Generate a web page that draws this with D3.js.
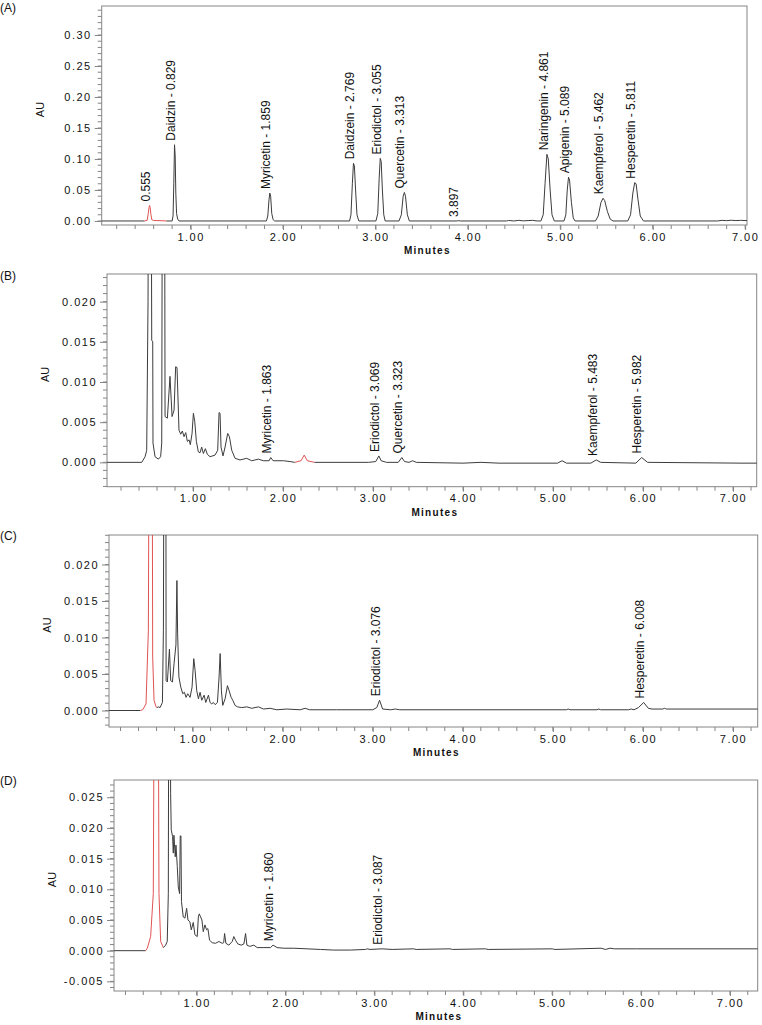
<!DOCTYPE html>
<html>
<head>
<meta charset="utf-8">
<script src="https://cdn.jsdelivr.net/npm/d3@7"></script>
<style>
  body { margin: 0; background: #fff; }
  svg text { font-family: "Liberation Sans", Arial, sans-serif; fill: #111; }
</style>
</head>
<body>
<svg id="chart" width="762" height="1025"></svg>
<script>
/************************* Data *************************/
// x tick labels (minutes)
const xTicks = [1, 2, 3, 4, 5, 6, 7];

// y tick labels (AU) per panel
const yTicksA = [0, 0.05, 0.10, 0.15, 0.20, 0.25, 0.30];
const yTicksB = [0, 0.005, 0.010, 0.015, 0.020];
const yTicksC = [0, 0.005, 0.010, 0.015, 0.020];
const yTicksD = [-0.005, 0, 0.005, 0.010, 0.015, 0.020, 0.025];

// chromatogram traces, [minutes, AU]
const traceA = [
  [0.0, 0], [0.50, 0], [0.53, 0.001], [0.542, 0.012], [0.55, 0.022], [0.556, 0.025], [0.562, 0.022],
  [0.57, 0.011], [0.58, 0.002], [0.60, 0.0007], [0.68, 0.0005], [0.74, 0],
  [0.80, 0], [0.81, 0.008], [0.818, 0.06], [0.826, 0.123], [0.833, 0.105], [0.84, 0.045], [0.848, 0.012], [0.86, 0.003], [0.875, 0],
  [1.82, 0], [1.835, 0.008], [1.848, 0.034], [1.857, 0.045], [1.866, 0.04], [1.878, 0.012], [1.893, 0.002], [1.91, 0],
  [2.72, 0], [2.735, 0.01], [2.75, 0.06], [2.762, 0.093], [2.772, 0.089], [2.785, 0.05], [2.80, 0.01], [2.82, 0],
  [3.005, 0], [3.025, 0.012], [3.04, 0.068], [3.052, 0.101], [3.062, 0.096], [3.075, 0.05], [3.09, 0.01], [3.105, 0],
  [3.255, 0], [3.28, 0.01], [3.30, 0.04], [3.313, 0.046], [3.325, 0.04], [3.345, 0.01], [3.367, 0],
  [3.88, 0], [3.90, 0.0005], [3.92, 0], [4.42, 0], [4.44, 0.0008], [4.5, 0], [4.55, 0.001], [4.6, 0.0002], [4.7, 0.001], [4.75, 0],
  [4.79, 0], [4.815, 0.01], [4.835, 0.06], [4.855, 0.1075], [4.87, 0.10], [4.89, 0.05], [4.91, 0.01], [4.935, 0],
  [5.04, 0], [5.06, 0.01], [5.075, 0.05], [5.089, 0.0705], [5.10, 0.066], [5.12, 0.03], [5.14, 0.005], [5.16, 0],
  [5.38, 0], [5.41, 0.008], [5.44, 0.03], [5.462, 0.0366], [5.48, 0.033], [5.51, 0.015], [5.54, 0.003], [5.57, 0],
  [5.73, 0], [5.76, 0.01], [5.785, 0.045], [5.805, 0.0618], [5.82, 0.06], [5.84, 0.035], [5.865, 0.008], [5.90, 0],
  [6.70, 0], [6.75, 0.001], [6.80, 0.0005], [6.85, 0.0012], [6.90, 0.0006], [6.95, 0.001], [7.1, 0]
];
const traceB = [
  [0.0, 0], [0.43, 0], [0.467, 0.0007], [0.485, 0.0015], [0.50, 0.02], [0.51, 0.06], [0.53, 0.06], [0.541, 0.0152],
  [0.552, 0.015], [0.555, 0.0024], [0.578, 0.0007], [0.615, 0.0004], [0.64, 0.0007], [0.652, 0.0024], [0.663, 0.06],
  [0.681, 0.06], [0.689, 0.0057], [0.715, 0.0055], [0.744, 0.0107], [0.767, 0.0057], [0.789, 0.0065], [0.807, 0.0119],
  [0.822, 0.0118], [0.844, 0.0040], [0.863, 0.0035], [0.881, 0.0039], [0.90, 0.0032], [0.919, 0.0037], [0.937, 0.0026],
  [0.956, 0.0028], [0.97, 0.0022], [0.989, 0.0036], [1.004, 0.0061], [1.019, 0.0051], [1.037, 0.0026], [1.059, 0.0013],
  [1.078, 0.0012], [1.096, 0.0019], [1.115, 0.0011], [1.137, 0.0017], [1.159, 0.001], [1.189, 0.0007], [1.244, 0.0009],
  [1.274, 0.0015], [1.289, 0.0062], [1.30, 0.0061], [1.311, 0.0019], [1.333, 0.0008], [1.356, 0.0019], [1.385, 0.0036],
  [1.404, 0.0032], [1.43, 0.0015], [1.467, 0.0005], [1.522, 0.0003], [1.596, 0.0005], [1.652, 0.0002], [1.726, 0.0004],
  [1.781, 0.0002], [1.845, 0.0002], [1.863, 0.0006], [1.89, 0.0002], [2.004, 0.0002], [2.078, 0.0001], [2.13, 0],
  [2.20, 0.0002], [2.235, 0.0009], [2.27, 0.0002], [2.35, 0],
  [2.95, 0], [3.03, 0.0001], [3.065, 0.0008], [3.09, 0.0002], [3.15, 0], [3.28, 0], [3.32, 0.0006], [3.35, 0.0001],
  [3.40, 0], [3.44, 0.0002], [3.48, 0], [4.0, -0.0001], [4.2, 0], [4.4, -0.0001], [5.05, -0.0001], [5.10, 0.0002],
  [5.15, -0.0001], [5.42, -0.0001], [5.48, 0.0003], [5.53, 0], [5.92, -0.0001], [5.985, 0.0006], [6.05, 0],
  [7.1, -0.0001], [7.3, -0.0001]
];
const traceC = [
  [0.0, 0], [0.42, 0], [0.446, 0.0001], [0.483, 0.0009], [0.509, 0.011], [0.52, 0.05], [0.55, 0.05], [0.557, 0.0073],
  [0.572, 0.0014], [0.594, 0.0005], [0.605, 0.0004],
  [0.62, 0.0005], [0.639, 0.0004], [0.665, 0.0011], [0.676, 0.011], [0.687, 0.06], [0.702, 0.06], [0.706, 0.0041],
  [0.72, 0.0039], [0.743, 0.0084], [0.757, 0.0041], [0.776, 0.0039], [0.794, 0.0064], [0.815, 0.009], [0.826, 0.0178],
  [0.834, 0.0105], [0.848, 0.0046], [0.869, 0.0032], [0.891, 0.0023], [0.909, 0.0025], [0.928, 0.0018], [0.946, 0.0023],
  [0.972, 0.0018], [0.994, 0.0032], [1.013, 0.0071], [1.028, 0.0055], [1.046, 0.0027], [1.065, 0.0016], [1.083, 0.0025],
  [1.102, 0.0014], [1.128, 0.0021], [1.146, 0.0011], [1.176, 0.0021], [1.194, 0.0011], [1.213, 0.0009], [1.231, 0.0011],
  [1.25, 0.0008], [1.276, 0.0011], [1.294, 0.0046], [1.306, 0.0078], [1.32, 0.0027], [1.335, 0.0007], [1.361, 0.0016],
  [1.387, 0.0034], [1.406, 0.0027], [1.428, 0.0018], [1.446, 0.0014], [1.472, 0.0007], [1.498, 0.0005], [1.546, 0.0004],
  [1.602, 0.0005], [1.657, 0.0003], [1.731, 0.0005], [1.787, 0.0002], [1.861, 0.0003], [1.935, 0.0001], [2.046, 0.0002],
  [2.194, 0.0001], [2.25, 0.0003], [2.30, 0.0001], [2.6, 0.0001], [3.0, 0.0001], [3.045, 0.0004], [3.076, 0.0014],
  [3.11, 0.0002], [3.2, 0.0001], [3.25, 0.0002], [3.3, 0.0001], [5.15, 0.0001], [5.17, 0.0002], [5.19, 0.0001],
  [5.49, 0.0001], [5.51, 0.0002], [5.53, 0.0001], [5.84, 0.0001], [5.87, 0.0002], [5.90, 0.0001], [5.95, 0.0004],
  [6.008, 0.0011], [6.06, 0.0003], [6.10, 0.0002], [6.22, 0.0002], [6.24, 0.0003], [6.26, 0.0002], [7.3, 0.0002]
];
const traceD = [
  [0.0, 0], [0.427, 0], [0.446, 0.0004], [0.483, 0.0023], [0.513, 0.0093], [0.528, 0.06], [0.566, 0.06], [0.577, 0.0093],
  [0.596, 0.0015], [0.626, 0.0005],
  [0.652, 0.0009], [0.67, 0.0015], [0.682, 0.0093], [0.689, 0.06], [0.70, 0.06], [0.708, 0.0256], [0.715, 0.0197],
  [0.730, 0.0186], [0.738, 0.0159], [0.745, 0.0188], [0.760, 0.0153], [0.768, 0.0172], [0.783, 0.0137], [0.794, 0.0104],
  [0.809, 0.0093], [0.816, 0.0187], [0.824, 0.0187], [0.83, 0.0080], [0.850, 0.0055], [0.869, 0.0053], [0.888, 0.0069],
  [0.903, 0.005], [0.925, 0.0047], [0.940, 0.0034], [0.963, 0.0046], [0.981, 0.0026], [1.007, 0.0023], [1.02, 0.0055],
  [1.030, 0.006], [1.045, 0.0055], [1.060, 0.005], [1.075, 0.0031], [1.094, 0.0042], [1.112, 0.0034], [1.127, 0.0036],
  [1.146, 0.0017], [1.176, 0.0013], [1.213, 0.0012], [1.251, 0.0015], [1.288, 0.0012], [1.305, 0.0013], [1.315, 0.0028],
  [1.330, 0.0012], [1.363, 0.0009], [1.401, 0.0015], [1.419, 0.0023], [1.438, 0.0017], [1.464, 0.0011], [1.502, 0.0009],
  [1.532, 0.0011], [1.551, 0.0028], [1.566, 0.0009], [1.599, 0.0007], [1.644, 0.0009], [1.682, 0.0005], [1.757, 0.0005],
  [1.831, 0.0005], [1.86, 0.0009], [1.906, 0.0005], [1.981, 0.0004], [2.094, 0.0004], [2.243, 0.0003], [2.393, 0.0002],
  [2.543, 0.0001], [2.73, 0.0001], [2.9, 0.0002], [2.92, 0.0003], [2.95, 0.0002], [3.087, 0.0003], [3.2, 0.0002],
  [3.44, 0.0003], [3.47, 0.0002], [3.85, 0.0003], [3.88, 0.0002], [4.25, 0.0003], [4.28, 0.0002], [5.0, 0.0003],
  [5.03, 0.0002], [5.55, 0.0004], [5.6, 0.0002], [5.65, 0.0004], [5.7, 0.0003], [5.95, 0.0003], [7.4, 0.0003]
];

// red (integrated) stretch of each trace, [from, to] minutes
const redA = [0.50, 0.74];
const redB = [2.13, 2.35];
const redC = [0.42, 0.605];
const redD = [0.427, 0.626];

// peak labels: compound, retention time, AU at the top of the peak
const peaksA = [
  {name: "",           rt: 0.555, au: 0.025},
  {name: "Daidzin",    rt: 0.829, au: 0.123},
  {name: "Myricetin",  rt: 1.859, au: 0.045},
  {name: "Daidzein",   rt: 2.769, au: 0.093},
  {name: "Eriodictol", rt: 3.055, au: 0.101},
  {name: "Quercetin",  rt: 3.313, au: 0.046},
  {name: "",           rt: 3.897, au: 0.000},
  {name: "Naringenin", rt: 4.861, au: 0.1075},
  {name: "Apigenin",   rt: 5.089, au: 0.0705},
  {name: "Kaempferol", rt: 5.462, au: 0.0366},
  {name: "Hesperetin", rt: 5.811, au: 0.0618}
];
const peaksB = [
  {name: "Myricetin",  rt: 1.863, au: 0.0006},
  {name: "Eriodictol", rt: 3.069, au: 0.0008},
  {name: "Quercetin",  rt: 3.323, au: 0.0006},
  {name: "Kaempferol", rt: 5.483, au: 0.0003},
  {name: "Hesperetin", rt: 5.982, au: 0.0006}
];
const peaksC = [
  {name: "Eriodictol", rt: 3.076, au: 0.0014},
  {name: "Hesperetin", rt: 6.008, au: 0.0011}
];
const peaksD = [
  {name: "Myricetin",  rt: 1.860, au: 0.0009},
  {name: "Eriodictol", rt: 3.087, au: 0.0003}
];

/************************* Layout *************************/
const PANELS = [
  {tag: "(A)", tagY: 12,  trace: traceA, red: redA, peaks: peaksA, yTicks: yTicksA, digits: 2, minor: 0.01,
   box: {l: 101.7, r: 747, t: 6, b: 225},     x: [0.038, 7.02],  y: [-0.0065, 0.3468]},
  {tag: "(B)", tagY: 280, trace: traceB, red: redB, peaks: peaksB, yTicks: yTicksB, digits: 3, minor: 0.001,
   box: {l: 107, r: 756.7, t: 274, b: 486.7}, x: [0.044, 7.263], y: [-0.00303, 0.02344]},
  {tag: "(C)", tagY: 540, trace: traceC, red: redC, peaks: peaksC, yTicks: yTicksC, digits: 3, minor: 0.001,
   box: {l: 109, r: 757.7, t: 535, b: 727},   x: [0.072, 7.274], y: [-0.00226, 0.02404]},
  {tag: "(D)", tagY: 785, trace: traceD, red: redD, peaks: peaksD, yTicks: yTicksD, digits: 3, minor: 0.001,
   box: {l: 114, r: 757.7, t: 780, b: 991},   x: [0.071, 7.312], y: [-0.00657, 0.02781]}
];
const FRAME = "#858585";
const INK = "#3c3c3c";
const RED = "#e05353";

/************************* Rendering *************************/
const svg = d3.select("#chart");
PANELS.forEach((p, i) => drawPanel(p, i));

function drawPanel(p, i) {
  const b = p.box;
  const x = d3.scaleLinear().domain(p.x).range([b.l, b.r]);
  const y = d3.scaleLinear().domain(p.y).range([b.b, b.t]);
  const g = svg.append("g");

  const clipId = "clip" + i;
  g.append("clipPath").attr("id", clipId)
    .append("rect")
    .attr("x", b.l).attr("y", b.t).attr("width", b.r - b.l).attr("height", b.b - b.t);

  // y axis, major then minor ticks
  const yAxis = g.append("g")
    .attr("transform", `translate(${b.l},0)`)
    .call(d3.axisLeft(y).tickValues(p.yTicks).tickFormat(d => d.toFixed(p.digits))
      .tickSize(7).tickPadding(3).tickSizeOuter(0));
  styleAxis(yAxis);

  const [y0, y1] = p.y;
  const minorY = d3.range(Math.ceil(y0 / p.minor - 1e-9), Math.floor(y1 / p.minor + 1e-9) + 1)
    .map(k => k * p.minor);
  g.append("g").selectAll("line").data(minorY).join("line")
    .attr("x1", b.l - 4).attr("x2", b.l)
    .attr("y1", d => y(d)).attr("y2", d => y(d))
    .attr("stroke", FRAME);

  // x axis
  const xAxis = g.append("g")
    .attr("transform", `translate(0,${b.b})`)
    .call(d3.axisBottom(x).tickValues(xTicks).tickFormat(d => d.toFixed(2))
      .tickSize(5).tickPadding(3).tickSizeOuter(0));
  styleAxis(xAxis);

  const minorX = d3.range(Math.ceil(p.x[0] / 0.2), Math.floor(p.x[1] / 0.2 + 1e-9) + 1).map(k => k * 0.2);
  g.append("g").selectAll("line").data(minorX).join("line")
    .attr("x1", d => x(d)).attr("x2", d => x(d))
    .attr("y1", b.b).attr("y2", b.b + 4)
    .attr("stroke", FRAME);

  // frame
  g.append("rect")
    .attr("x", b.l).attr("y", b.t).attr("width", b.r - b.l).attr("height", b.b - b.t)
    .attr("fill", "none").attr("stroke", FRAME);

  // trace, split round the red stretch
  const [r0, r1] = p.red;
  const line = d3.line().x(d => x(d[0])).y(d => y(d[1]));
  const pieces = [
    {pts: p.trace.filter(d => d[0] <= r0), color: INK},
    {pts: p.trace.filter(d => d[0] >= r0 && d[0] <= r1), color: RED},
    {pts: p.trace.filter(d => d[0] >= r1), color: INK}
  ];
  g.append("g").attr("clip-path", `url(#${clipId})`)
    .selectAll("path").data(pieces).join("path")
    .attr("d", d => line(d.pts))
    .attr("fill", "none")
    .attr("stroke", d => d.color)
    .attr("stroke-width", 1)
    .attr("stroke-linejoin", "round");

  // peak labels, vertical, sitting on the peak top
  g.append("g").selectAll("text").data(p.peaks).join("text")
    .attr("transform", d => `translate(${x(d.rt).toFixed(1)},${(y(d.au) - 4).toFixed(1)}) rotate(-90)`)
    .attr("font-size", 12)
    .text(d => d.name ? `${d.name} - ${d.rt.toFixed(3)}` : d.rt.toFixed(3));

  // axis titles and panel tag
  g.append("text")
    .attr("transform", `translate(${b.l - 58},${(b.t + b.b) / 2 - 6}) rotate(-90)`)
    .attr("text-anchor", "middle")
    .attr("font-size", 11)
    .text("AU");

  g.append("text")
    .attr("x", (b.l + b.r) / 2 + 3).attr("y", b.b + 29)
    .attr("text-anchor", "middle")
    .attr("font-size", 10).attr("font-weight", "bold")
    .attr("letter-spacing", "1.3px")
    .text("Minutes");

  g.append("text")
    .attr("x", 0).attr("y", p.tagY)
    .attr("font-size", 12)
    .text(p.tag);
}

function styleAxis(a) {
  a.select(".domain").remove();
  a.selectAll(".tick line").attr("stroke", FRAME);
  a.selectAll(".tick text")
    .attr("font-size", 11)
    .attr("font-family", "Liberation Sans, Arial, sans-serif")
    .attr("letter-spacing", "1.5px")
    .attr("fill", "#111");
}
</script>
</body>
</html>
